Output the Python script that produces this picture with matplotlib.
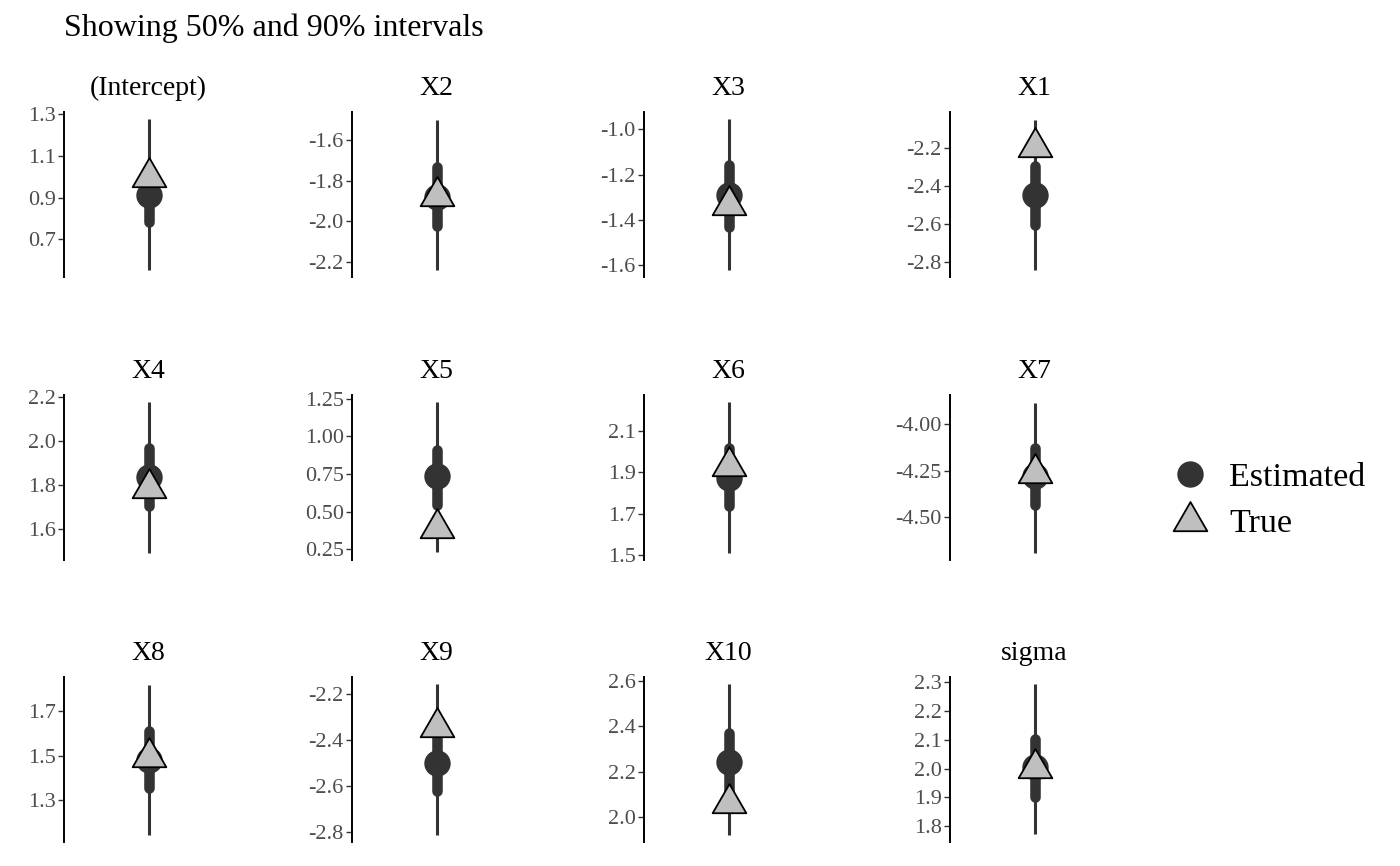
import matplotlib
matplotlib.use("Agg")
import matplotlib.pyplot as plt
from matplotlib.path import Path
from matplotlib.lines import Line2D
import numpy as np

plt.rcParams['font.family'] = ['Liberation Serif', 'DejaVu Serif']

params = ["(Intercept)", "X2", "X3", "X1",
          "X4", "X5", "X6", "X7",
          "X8", "X9", "X10", "sigma"]
estimated = [0.91, -1.88, -1.29, -2.445, 1.836, 0.735, 1.871, -4.28, 1.48, -2.50, 2.243, 2.006]
true_vals = [1.00, -1.875, -1.334, -2.191, 1.784, 0.391, 1.929, -4.262, 1.494, -2.34, 2.064, 2.001]
lo90 = [0.556, -2.236, -1.619, -2.838, 1.492, 0.228, 1.513, -4.69, 1.144, -2.81, 1.923, 1.771]
hi90 = [1.273, -1.50, -0.956, -2.048, 2.174, 1.224, 2.235, -3.883, 1.821, -2.157, 2.584, 2.293]
lo50 = [0.782, -2.021, -1.430, -2.605, 1.702, 0.544, 1.738, -4.433, 1.352, -2.62, 2.115, 1.902]
hi50 = [1.040, -1.734, -1.157, -2.295, 1.967, 0.908, 2.016, -4.128, 1.611, -2.38, 2.371, 2.102]
tick_labels = [
    ["0.7", "0.9", "1.1", "1.3"],
    ["-2.2", "-2.0", "-1.8", "-1.6"],
    ["-1.6", "-1.4", "-1.2", "-1.0"],
    ["-2.8", "-2.6", "-2.4", "-2.2"],
    ["1.6", "1.8", "2.0", "2.2"],
    ["0.25", "0.50", "0.75", "1.00", "1.25"],
    ["1.5", "1.7", "1.9", "2.1"],
    ["-4.50", "-4.25", "-4.00"],
    ["1.3", "1.5", "1.7"],
    ["-2.8", "-2.6", "-2.4", "-2.2"],
    ["2.0", "2.2", "2.4", "2.6"],
    ["1.8", "1.9", "2.0", "2.1", "2.2", "2.3"],
]

W, H = 1400, 866
fig = plt.figure(figsize=(W / 100, H / 100), dpi=100)

tri = Path([(0, 1), (-0.866, -0.5), (0.866, -0.5), (0, 1)],
           [Path.MOVETO, Path.LINETO, Path.LINETO, Path.CLOSEPOLY])

dark = "#333333"
trifill = "#BFBFBF"

col_left = [64, 352, 644, 950]
panel_w = 169
row_top = [112, 395, 677]
panel_h = 165

for i, name in enumerate(params):
    r, c = divmod(i, 4)
    left = col_left[c] / W
    bottom = 1 - (row_top[r] + panel_h) / H
    ax = fig.add_axes([left, bottom, panel_w / W, panel_h / H])
    lo = min(lo90[i], true_vals[i], estimated[i])
    hi = max(hi90[i], true_vals[i], estimated[i])
    pad = 0.05 * (hi - lo)
    ax.set_ylim(lo - pad, hi + pad)
    ax.set_xlim(-1, 1)
    ax.plot([0, 0], [lo90[i], hi90[i]], color=dark, lw=2.2, solid_capstyle='butt', zorder=2)
    ax.plot([0, 0], [lo50[i], hi50[i]], color=dark, lw=7.6, solid_capstyle='round', zorder=3)
    ax.plot([0], [estimated[i]], marker='o', ms=18, color=dark, mec=dark, zorder=4)
    ax.plot([0], [true_vals[i]], marker=tri, ms=28, mfc=trifill, mec='black', mew=1.3, zorder=5)
    ticks = [float(t) for t in tick_labels[i]]
    ax.set_yticks(ticks)
    ax.set_yticklabels(tick_labels[i])
    ax.set_xticks([])
    for s in ['top', 'right', 'bottom']:
        ax.spines[s].set_visible(False)
    ax.spines['left'].set_linewidth(1.4)
    ax.spines['left'].set_color('black')
    ax.tick_params(axis='y', length=4, width=1.0, color='#333333', labelcolor='#4D4D4D',
                   labelsize=16, pad=2)
    ax.patch.set_visible(False)
    ax.set_title(name, fontsize=20, color='black', pad=12)

fig.text(64 / W, 1 - 28 / H, "Showing 50% and 90% intervals", fontsize=23,
         ha='left', va='center', color='black')

handles = [
    Line2D([], [], linestyle='none', marker='o', ms=18, color=dark, mec=dark),
    Line2D([], [], linestyle='none', marker=tri, ms=28, mfc=trifill, mec='black', mew=1.3),
]
fig.legend(handles, ["Estimated", "True"], loc='center left',
           bbox_to_anchor=(1146 / W, 1 - 501 / H), frameon=False, fontsize=24.5,
           handletextpad=0.55, labelspacing=0.45, handlelength=1.2, borderpad=0.2)

fig.savefig("out.png", dpi=100)
